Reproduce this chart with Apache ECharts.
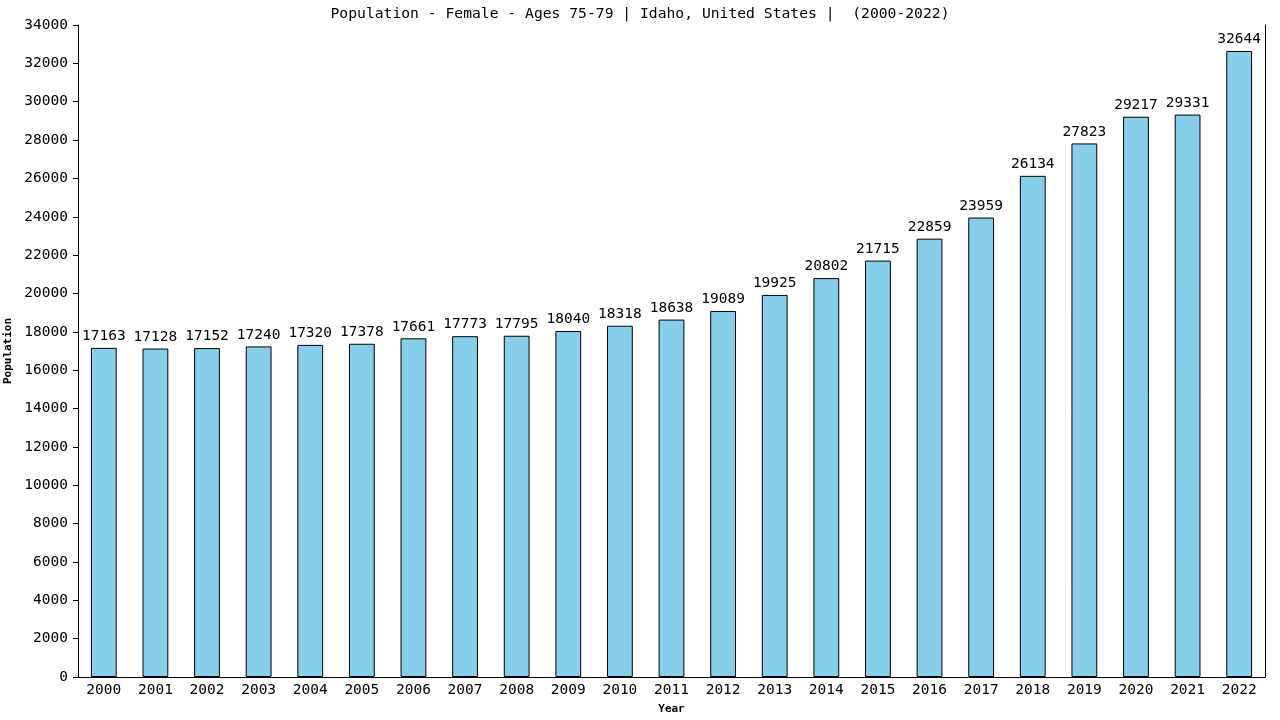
<!DOCTYPE html>
<html><head><meta charset="utf-8">
<script src="https://cdn.jsdelivr.net/npm/echarts@6/dist/echarts.min.js"></script>
<style>html,body{margin:0;padding:0;background:#fff}#c{width:1280px;height:720px}</style>
</head><body><div id="c"></div>
<script>
const years = ['2000','2001','2002','2003','2004','2005','2006','2007','2008','2009','2010','2011','2012','2013','2014','2015','2016','2017','2018','2019','2020','2021','2022'];
const population = [17163,17128,17152,17240,17320,17378,17661,17773,17795,18040,18318,18638,19089,19925,20802,21715,22859,23959,26134,27823,29217,29331,32644];
const FONT = '"DejaVu Sans Mono", monospace';
const chart = echarts.init(document.getElementById('c'));
chart.setOption({
  animation: false,
  backgroundColor: '#ffffff',
  title: {
    text: 'Population - Female - Ages 75-79 | Idaho, United States |  (2000-2022)',
    left: 'center', top: 2,
    textStyle: {fontFamily: FONT, fontSize: 14.7, fontWeight: 'normal', color: '#000'}
  },
  grid: {left: 78, right: 15, top: 25, bottom: 43, containLabel: false, outerBoundsMode: 'none'},
  xAxis: {
    type: 'category', data: years,
    name: 'Year', nameLocation: 'middle', nameGap: 27,
    nameTextStyle: {fontFamily: FONT, fontSize: 11, fontWeight: 'bold', color: '#000'},
    axisLine: {lineStyle: {color: '#000', width: 1}},
    axisTick: {show: false},
    axisLabel: {fontFamily: FONT, fontSize: 14.5, color: '#000', margin: 6, interval: 0}
  },
  yAxis: [{
    type: 'value', min: 0, max: 34000, interval: 2000,
    name: 'Population', nameLocation: 'middle', nameGap: 60,
    nameTextStyle: {fontFamily: FONT, fontSize: 11, fontWeight: 'bold', color: '#000'},
    axisLine: {show: true, lineStyle: {color: '#000', width: 1}},
    axisTick: {show: true, length: 5, lineStyle: {color: '#000'}},
    axisLabel: {fontFamily: FONT, fontSize: 14.5, color: '#000', margin: 10, formatter: v => String(v)},
    splitLine: {show: false}
  }, {
    type: 'value', min: 0, max: 34000, position: 'right',
    axisLine: {show: true, lineStyle: {color: '#000', width: 1}},
    axisTick: {show: false}, axisLabel: {show: false}, splitLine: {show: false}
  }],
  series: [{
    type: 'bar', data: population, barWidth: '50%',
    itemStyle: {color: '#87ceeb', borderColor: '#000', borderWidth: 1},
    label: {show: true, position: 'top', distance: 4, fontFamily: FONT, fontSize: 14.5, color: '#000'}
  }]
});
</script></body></html>
